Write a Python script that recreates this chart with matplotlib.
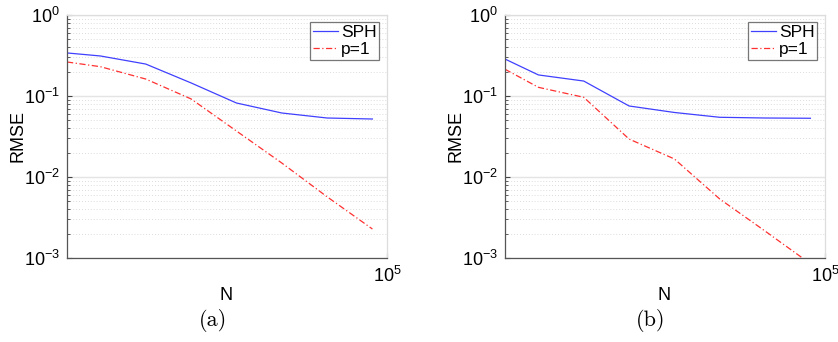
import matplotlib
matplotlib.use("Agg")
import matplotlib.pyplot as plt
from matplotlib.ticker import LogLocator, NullLocator, FixedLocator, LogFormatterMathtext

plt.rcParams['font.family'] = ['Liberation Sans', 'DejaVu Sans']
plt.rcParams['mathtext.fontset'] = 'custom'
plt.rcParams['mathtext.rm'] = 'Liberation Sans'
plt.rcParams['mathtext.it'] = 'Liberation Sans:italic'

N = [750, 1250, 2500, 5000, 10000, 20000, 40000, 80000]

sph_a = [0.34, 0.312, 0.248, 0.145, 0.082, 0.0617, 0.0535, 0.052]
p1_a = [0.263, 0.23, 0.162, 0.092, 0.037, 0.0149, 0.0057, 0.00228]

sph_b = [0.286, 0.182, 0.153, 0.0753, 0.0626, 0.0546, 0.0535, 0.0531]
p1_b = [0.214, 0.128, 0.0964, 0.0294, 0.0167, 0.00535, 0.00215, 0.00085]

panels = [("(a)", sph_a, p1_a), ("(b)", sph_b, p1_b)]
labels = ["SPH", "p=1"]

W, H = 838, 342
fig = plt.figure(figsize=(W / 100, H / 100), dpi=100)

lefts = [67, 505]
for (tag, sph, p1), lpx in zip(panels, lefts):
    ax = fig.add_axes([lpx / W, 1 - 258 / H, 320 / W, 243 / H])
    ax.plot(N, sph, color='#4040ff', lw=0.9, label=labels[0])
    ax.plot(N, p1, color='#ff3030', lw=0.9, ls=(0, (5, 2, 1, 2)), label=labels[1])
    ax.set_xscale('log')
    ax.set_yscale('log')
    ax.set_xlim(N[0], 1e5)
    ax.set_ylim(1e-3, 1)
    ax.xaxis.set_major_locator(FixedLocator([1e5]))
    ax.xaxis.set_minor_locator(NullLocator())
    ax.xaxis.set_major_formatter(LogFormatterMathtext())
    ax.yaxis.set_major_locator(LogLocator(base=10, numticks=10))
    ax.yaxis.set_minor_locator(LogLocator(base=10, subs=range(2, 10), numticks=20))
    ax.yaxis.set_major_formatter(LogFormatterMathtext())
    ax.grid(True, which='major', axis='y', color='#e4e4e4', lw=1.0, ls='-')
    ax.grid(True, which='minor', axis='y', color='#d0d0d0', lw=0.6, ls=(0, (1, 2.5)))
    ax.set_axisbelow(True)
    ax.tick_params(which='both', direction='in', labelsize=13, color='#444444')
    ax.tick_params(which='major', length=3.5)
    ax.tick_params(which='minor', length=2)
    ax.tick_params(axis='x', pad=6)
    ax.tick_params(axis='y', pad=5)
    for s in ['left', 'bottom']:
        ax.spines[s].set_color('#555555')
        ax.spines[s].set_linewidth(0.9)
    for s in ['top', 'right']:
        ax.spines[s].set_color('#dddddd')
        ax.spines[s].set_linewidth(0.9)
    leg = ax.legend(loc='upper right', bbox_to_anchor=(0.975, 0.97), fontsize=12.5,
                    frameon=True, fancybox=False, handlelength=1.45, handletextpad=0.15,
                    borderpad=0.15, labelspacing=0.1, borderaxespad=0.0)
    leg.get_frame().set_edgecolor('#555555')
    leg.get_frame().set_linewidth(0.9)
    fig.text((lpx - 48.5) / W, 1 - 136.5 / H, 'RMSE', rotation=90, ha='center',
             va='center', fontsize=13)
    fig.text((lpx + 159) / W, 1 - 295.5 / H, 'N', ha='center', va='center',
             fontsize=13)
    fig.text((lpx + 146) / W, 1 - 321 / H, tag, ha='center', va='center',
             fontsize=16, family='cmr10')

fig.savefig('out.png', dpi=100)
